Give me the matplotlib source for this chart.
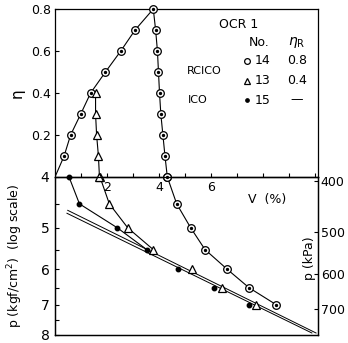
import numpy as np
import matplotlib
matplotlib.use("Agg")
import matplotlib.pyplot as plt
from matplotlib.ticker import NullLocator, NullFormatter, FixedLocator, FixedFormatter

plt.rcParams['font.family'] = ['DejaVu Sans']
plt.rcParams['font.size'] = 9

# --- data ---
# top panel: eta vs V (%)
eta_load = [0, 0.1, 0.2, 0.3, 0.4, 0.5, 0.6, 0.7, 0.8]
V14_load = [0, 0.35, 0.60, 0.99, 1.37, 1.94, 2.53, 3.08, 3.78]
eta_unl14 = [0.8, 0.7, 0.6, 0.5, 0.4, 0.3, 0.2, 0.1, 0.0]
V14_unl = [3.78, 3.87, 3.94, 3.98, 4.02, 4.07, 4.15, 4.23, 4.32]
eta_unl13 = [0.4, 0.3, 0.2, 0.1, 0.0]
V13_unl = [1.56, 1.56, 1.60, 1.67, 1.71]

# bottom panel: p (kgf/cm2, log) vs V (%)
p_lev = [4, 4.5, 5, 5.5, 6, 6.5, 7]
V14_p = [4.32, 4.68, 5.22, 5.77, 6.63, 7.46, 8.50]
V13_p = [1.73, 2.09, 2.80, 3.78, 5.26, 6.41, 7.73]
V15_p = [0.54, 0.94, 2.40, 3.53, 4.72, 6.13, 7.46]
n_curve = 4  # triangles and dots joined by a curve up to p = 5.5

# two straight lines (V, p) end points
line1_V = [0.49, 10.04]
line1_p = [4.63, 7.93]
line2_V = [0.46, 9.88]
line2_p = [4.69, 7.93]

W, H = 348, 343
fig = plt.figure(figsize=(W / 100, H / 100), dpi=100)


def px(x, y):
    return x / W, 1 - y / H


ax_bot = fig.add_axes([55 / W, 1 - 335 / H, 263 / W, 158 / H])
ax_top = fig.add_axes([55 / W, 1 - 177 / H, 263 / W, 168 / H])
ax_bot.set_facecolor('none')
ax_top.set_facecolor('none')
xmax = 263 / 26.0

circ = dict(marker='o', ms=5.5, mfc='white', mec='black', mew=0.9, ls='none', clip_on=False, zorder=4)
cdot = dict(marker='o', ms=1.4, mfc='black', mec='black', ls='none', clip_on=False, zorder=5)
tri = dict(marker='^', ms=5.5, mfc='white', mec='black', mew=0.9, ls='none', clip_on=False, zorder=4)
dot = dict(marker='o', ms=3.2, mfc='black', mec='black', ls='none', clip_on=False, zorder=4)
lk = dict(color='black', lw=0.8)

# top panel
ax_top.plot(V14_load, eta_load, **lk)
ax_top.plot(V14_unl, eta_unl14, **lk)
ax_top.plot(V13_unl, eta_unl13, **lk)
ax_top.plot(V14_load[1:], eta_load[1:], **circ)
ax_top.plot(V14_load[1:], eta_load[1:], **cdot)
ax_top.plot(V14_unl[1:], eta_unl14[1:], **circ)
ax_top.plot(V14_unl[1:], eta_unl14[1:], **cdot)
ax_top.plot(V13_unl, eta_unl13, **tri)
ax_top.set_xlim(0, xmax)
ax_top.set_ylim(0, 0.8)
ax_top.set_yticks([0.2, 0.4, 0.6, 0.8])
ax_top.set_yticklabels(['0.2', '0.4', '0.6', '0.8'])
ax_top.set_xticks(range(1, 11))
ax_top.set_xticklabels(['', '2', '', '4', '', '6', '', '', '', ''])
ax_top.tick_params(axis='x', direction='in', length=3, pad=3, width=0.8)
ax_top.tick_params(axis='y', direction='in', length=3, pad=3, width=0.8)
ax_top.set_ylabel('η', fontsize=11)
ax_top.yaxis.set_label_coords(-0.115, 0.5)
for s in ax_top.spines.values():
    s.set_linewidth(0.9)

# bottom panel
ax_bot.set_yscale('log')
ax_bot.plot(V14_p, p_lev, **lk)
ax_bot.plot(V13_p[:n_curve], p_lev[:n_curve], **lk)
ax_bot.plot(V15_p[:n_curve], p_lev[:n_curve], **lk)
ax_bot.plot(line1_V, line1_p, color='black', lw=0.7)
ax_bot.plot(line2_V, line2_p, color='black', lw=0.7)
ax_bot.plot(V14_p, p_lev, **circ)
ax_bot.plot(V14_p, p_lev, **cdot)
ax_bot.plot(V13_p, p_lev, **tri)
ax_bot.plot(V15_p, p_lev, **dot)
ax_bot.set_xlim(0, xmax)
ax_bot.set_ylim(8, 4)
ax_bot.yaxis.set_major_locator(FixedLocator([4, 5, 6, 7, 8]))
ax_bot.yaxis.set_major_formatter(FixedFormatter(['4', '5', '6', '7', '8']))
ax_bot.yaxis.set_minor_locator(FixedLocator([4.5, 5.5, 6.5, 7.5]))
ax_bot.yaxis.set_minor_formatter(NullFormatter())
ax_bot.tick_params(axis='y', which='major', direction='in', length=3, pad=4, width=0.8, labelsize=10)
ax_bot.tick_params(axis='y', which='minor', direction='in', length=3, width=0.8)
ax_bot.tick_params(axis='x', bottom=False, labelbottom=False, top=False)
ax_bot.set_ylabel('p (kgf/cm$^2$)  (log scale)', fontsize=9)
ax_bot.yaxis.set_label_coords(-0.115, 0.5)
for s in ax_bot.spines.values():
    s.set_linewidth(0.9)
ax_bot.text((248 - 55) / 263, 1 - (199 - 177) / 158, 'V  (%)', transform=ax_bot.transAxes,
            ha='left', va='center', fontsize=9)
ax_bot.text((309 - 55) / 263, 1 - (258 - 177) / 158, 'p (kPa)', transform=ax_bot.transAxes,
            ha='center', va='center', rotation=90, fontsize=9)

ax_r = ax_bot.twinx()
ax_r.set_yscale('log')
ax_r.set_ylim(8 * 98.0665, 4 * 98.0665)
ax_r.yaxis.set_major_locator(FixedLocator([400, 500, 600, 700]))
ax_r.yaxis.set_major_formatter(FixedFormatter(['400', '500', '600', '700']))
ax_r.yaxis.set_minor_locator(NullLocator())
ax_r.tick_params(axis='y', direction='in', length=3, pad=2, width=0.8, labelsize=9)
for s in ax_r.spines.values():
    s.set_linewidth(0.9)

# legend table
fs = 9
fig.text(*px(239, 25), 'OCR 1', ha='center', va='center', fontsize=fs)
fig.text(*px(259, 43), 'No.', ha='center', va='center', fontsize=fs)
fig.text(*px(297, 42), r'$\eta_{\rm R}$', ha='center', va='center', fontsize=fs + 1)
fig.text(*px(204, 71), 'RCICO', ha='center', va='center', fontsize=fs - 1)
fig.text(*px(198, 100), 'ICO', ha='center', va='center', fontsize=fs - 1)
rows = [(61, '14', '0.8', circ), (81, '13', '0.4', tri), (100, '15', '—', dot)]
for y, no, er, st in rows:
    fig.text(*px(263, y), no, ha='center', va='center', fontsize=fs)
    fig.text(*px(297, y), er, ha='center', va='center', fontsize=fs)
    mx, my = px(246.5, y)
    st2 = dict(st)
    st2['ms'] = st['ms'] * 0.75
    fig.add_artist(plt.Line2D([mx], [my], transform=fig.transFigure, **st2))

fig.savefig('out.png', dpi=100)
